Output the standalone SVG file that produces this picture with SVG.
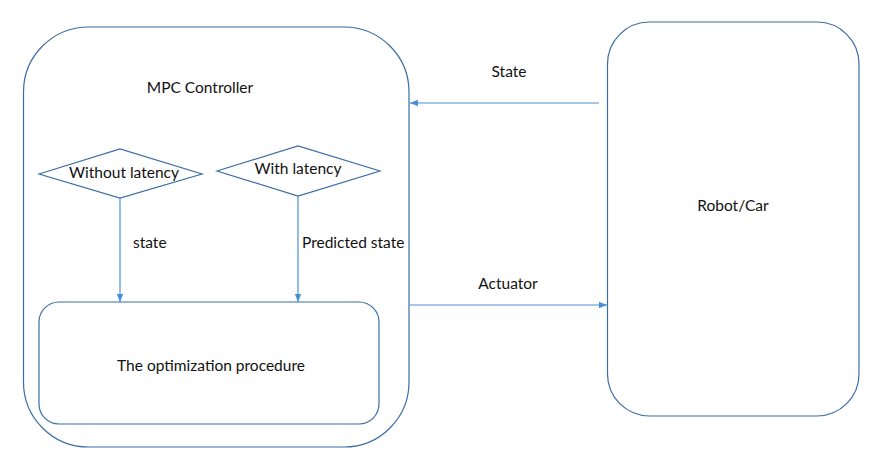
<svg xmlns="http://www.w3.org/2000/svg" width="888" height="450" viewBox="0 0 888 450">
<defs>
<style>
.box{fill:#fff;stroke:#3a6ea5;stroke-width:1.2}
.ln{stroke:#4a8fd6;stroke-width:1.2;fill:none}
text{font-family:Lato,"Open Sans","Liberation Sans",sans-serif;font-size:15.5px;fill:#111}
</style>
<marker id="ah" viewBox="0 0 10 10" refX="10" refY="5" markerWidth="8" markerHeight="8" markerUnits="userSpaceOnUse" orient="auto">
<path d="M0,1 L10,5 L0,9 z" fill="#4a8fd6"/>
</marker>
</defs>
<g id="mpc"><rect class="box" x="23.5" y="27" width="385.5" height="420" rx="65" ry="65"/>
<text x="200" y="93" text-anchor="middle">MPC Controller</text></g>
<g id="robot"><rect class="box" x="607.5" y="22" width="251.5" height="394" rx="42" ry="42"/>
<text x="733" y="211" text-anchor="middle">Robot/Car</text></g>
<g id="opt"><rect class="box" x="39" y="302" width="340" height="122" rx="20" ry="20"/>
<text x="211" y="371" text-anchor="middle">The optimization procedure</text></g>
<g id="without"><polygon class="box" points="39,174 120,149 202,174 120,198"/>
<text x="124" y="178" text-anchor="middle">Without latency</text></g>
<g id="with"><polygon class="box" points="217,171 298,146 380,171 298,196"/>
<text x="298" y="174" text-anchor="middle">With latency</text></g>
<g id="connectors">
<line class="ln" x1="120" y1="198" x2="120" y2="302" marker-end="url(#ah)"/>
<line class="ln" x1="298" y1="196" x2="298" y2="302" marker-end="url(#ah)"/>
<line class="ln" x1="599" y1="103" x2="410" y2="103" marker-end="url(#ah)"/>
<line class="ln" x1="410" y1="305" x2="607" y2="305" marker-end="url(#ah)"/>
<text x="133" y="248">state</text>
<text x="302" y="248">Predicted state</text>
<text x="509" y="77" text-anchor="middle">State</text>
<text x="508" y="289" text-anchor="middle">Actuator</text>
</g>
</svg>
